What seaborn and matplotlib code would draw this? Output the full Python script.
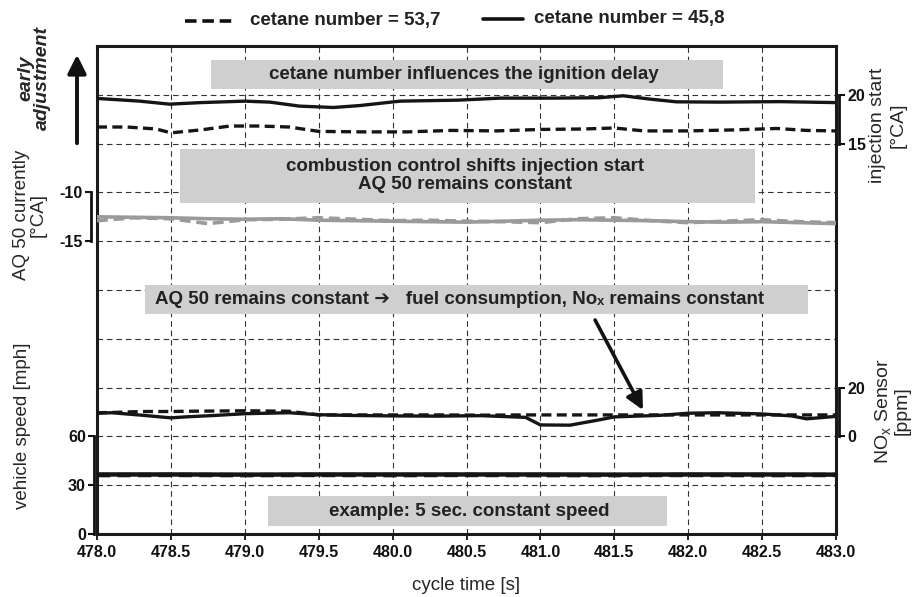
import numpy as np
import matplotlib
matplotlib.use("Agg")
import matplotlib.pyplot as plt
import seaborn as sns
from matplotlib.patches import Rectangle, FancyArrowPatch
from matplotlib.lines import Line2D

sns.set_style("white")
plt.rcParams["font.family"] = ["Liberation Sans", "DejaVu Sans"]
plt.rcParams["mathtext.fontset"] = "custom"
plt.rcParams["mathtext.rm"] = "Liberation Sans"
plt.rcParams["mathtext.bf"] = "Liberation Sans:bold"
plt.rcParams["mathtext.it"] = "Liberation Sans:italic"

# ---------------- data ----------------
series_labels = ["cetane number = 53,7", "cetane number = 45,8"]
x_ticks = [478.0, 478.5, 479.0, 479.5, 480.0, 480.5, 481.0, 481.5, 482.0, 482.5, 483.0]

inj_time_458 = [478.0, 478.29, 478.49, 478.7, 479.0, 479.17, 479.37, 479.6, 479.78, 480.05,
                480.44, 480.73, 481.07, 481.4, 481.56, 481.74, 481.92, 482.22, 482.62, 483.0]
inj_458 = [19.63, 19.35, 19.04, 19.2, 19.35, 19.25, 18.84, 18.7, 18.9, 19.35,
           19.45, 19.66, 19.66, 19.7, 19.9, 19.56, 19.28, 19.25, 19.3, 19.2]
inj_time_537 = [478.0, 478.2, 478.4, 478.5, 478.7, 478.9, 479.1, 479.3, 479.5, 479.8, 480.1,
                480.4, 480.7, 481.0, 481.3, 481.5, 481.7, 482.0, 482.3, 482.6, 482.8, 483.0]
inj_537 = [16.7, 16.7, 16.5, 16.1, 16.4, 16.8, 16.8, 16.7, 16.25, 16.2, 16.2,
           16.35, 16.3, 16.45, 16.5, 16.6, 16.3, 16.3, 16.4, 16.55, 16.35, 16.3]

aq_time = [478.0, 478.25, 478.5, 478.75, 479.0, 479.25, 479.5, 479.75, 480.0, 480.25, 480.5,
           480.75, 481.0, 481.25, 481.5, 481.75, 482.0, 482.25, 482.5, 482.75, 483.0]
aq_458 = [-12.5, -12.55, -12.6, -12.7, -12.75, -12.7, -12.85, -12.9, -12.95, -13.0, -13.05,
          -12.95, -12.85, -12.8, -12.85, -12.9, -13.0, -13.05, -13.0, -13.1, -13.2]
aq_537 = [-12.9, -12.6, -12.7, -13.2, -12.8, -12.75, -12.6, -12.75, -12.9, -12.85, -12.95,
          -13.0, -13.1, -12.7, -12.6, -12.9, -13.1, -12.95, -12.8, -13.0, -13.1]

nox_time = [478.0, 478.1, 478.3, 478.5, 478.6, 478.8, 479.0, 479.3, 479.5, 479.7, 480.0, 480.3,
            480.6, 480.9, 481.0, 481.2, 481.4, 481.5, 481.8, 482.0, 482.2, 482.5, 482.7, 482.8, 483.0]
nox_458 = [9.5, 9.7, 8.7, 7.6, 8.0, 8.6, 9.3, 9.7, 8.9, 8.6, 8.4, 8.3,
           8.5, 7.8, 4.7, 4.6, 6.8, 8.0, 8.6, 9.5, 9.7, 9.2, 8.4, 7.2, 8.2]
nox_537 = [9.7, 9.8, 10.2, 10.2, 10.3, 10.4, 10.5, 10.3, 8.8, 8.8, 8.8, 8.8,
           8.7, 8.8, 8.8, 8.8, 8.8, 8.8, 8.8, 8.8, 8.8, 8.8, 8.8, 8.8, 8.8]

speed_time = [478.0, 478.5, 479.0, 479.5, 480.0, 480.5, 481.0, 481.5, 482.0, 482.5, 483.0]
speed_458 = [36.6, 36.6, 36.5, 36.6, 36.6, 36.6, 36.6, 36.5, 36.6, 36.6, 36.5]
speed_537 = [36.2, 36.3, 36.2, 36.3, 36.2, 36.3, 36.2, 36.2, 36.3, 36.2, 36.3]

notes = ["cetane number influences the ignition delay",
         "combustion control shifts injection start\nAQ 50 remains constant",
         "AQ 50 remains constant \u2794   fuel consumption, No\u2093 remains constant",
         "example: 5 sec. constant speed"]

# ---------------- figure ----------------
W, H = 915, 597
fig = plt.figure(figsize=(W / 100, H / 100), dpi=100)
L, R, T, B = 97, 836, 46, 534
ax = fig.add_axes([L / W, 1 - B / H, (R - L) / W, (B - T) / H])
ax.set_xlim(478, 483)
ax.set_ylim(0, 10)
ax.set_xticks(x_ticks)
ax.set_xticklabels([f"{v:.1f}" for v in x_ticks], fontsize=11.5, fontweight="bold")
ax.set_yticks(range(0, 11))
ax.tick_params(axis="x", bottom=True, length=4, width=1.3, direction="out", pad=4, colors="#111")
ax.grid(True, linestyle=(0, (5, 3.5)), color="#333333", linewidth=0.8)
for s in ax.spines.values():
    s.set_linewidth(2.2)
    s.set_color("#1a1a1a")
ax.set_xlabel("cycle time [s]", fontsize=13.5, labelpad=12)


def px2fig(x, y):
    return x / W, 1 - y / H


def overlay(lo, hi, side, ticks, offset):
    a = ax.twinx()
    a.set_ylim(lo, hi)
    a.grid(False)
    for s in a.spines.values():
        s.set_visible(False)
    sp = a.spines[side]
    sp.set_visible(True)
    sp.set_bounds(min(ticks), max(ticks))
    sp.set_position(("outward", offset))
    sp.set_linewidth(2)
    sp.set_color("#111")
    if side == "left":
        a.yaxis.tick_left()
    else:
        a.yaxis.tick_right()
    a.set_yticks(ticks)
    a.set_yticklabels([str(t) for t in ticks], fontsize=11.5, fontweight="bold")
    a.tick_params(axis="y", length=4, width=1.5, pad=2, colors="#111")
    return a


ax_inj = overlay(-25, 25, "right", [15, 20], 2.5)
ax_aq = overlay(-45, 5, "left", [-15, -10], 4)
ax_nox = overlay(-40, 160, "right", [0, 20], 2.5)
ax_spd = overlay(0, 300, "left", [0, 30, 60], 2)
# twinx re-enables left ticks on the host axes: switch them off again
ax.tick_params(axis="y", left=False, right=False, labelleft=False, labelright=False)

dash = (0, (3, 1.6))
sns.lineplot(x=inj_time_458, y=inj_458, ax=ax_inj, color="#151515", linewidth=2.4)
sns.lineplot(x=inj_time_537, y=inj_537, ax=ax_inj, color="#151515", linewidth=2.4, linestyle=dash)
sns.lineplot(x=aq_time, y=aq_458, ax=ax_aq, color="#9a9a9a", linewidth=2.6)
sns.lineplot(x=aq_time, y=aq_537, ax=ax_aq, color="#9a9a9a", linewidth=2.6, linestyle=dash)
sns.lineplot(x=nox_time, y=nox_458, ax=ax_nox, color="#151515", linewidth=2.4)
sns.lineplot(x=nox_time, y=nox_537, ax=ax_nox, color="#151515", linewidth=2.4, linestyle=dash)
sns.lineplot(x=speed_time, y=speed_458, ax=ax_spd, color="#151515", linewidth=3.2)
sns.lineplot(x=speed_time, y=speed_537, ax=ax_spd, color="#151515", linewidth=3.2, linestyle=dash)
for a in (ax_inj, ax_aq, ax_nox, ax_spd):
    a.set_xlim(478, 483)
    a.set_xlabel("")
    a.set_ylabel("")

# ---------------- annotation boxes ----------------
box_color = "#cfcfcf"
text_color = "#222222"
boxes = [(478.77, 9.12, 482.235, 9.71), (478.56, 6.78, 482.45, 7.89),
         (478.325, 4.51, 482.81, 5.10), (479.157, 0.16, 481.857, 0.78)]
for (x0, y0, x1, y1) in boxes:
    ax.add_patch(Rectangle((x0, y0), x1 - x0, y1 - y0, facecolor=box_color,
                           edgecolor="none", zorder=3))
ax.text(480.48, 9.42, notes[0], ha="center", va="center", fontsize=13.5,
        fontweight="bold", color=text_color, zorder=4)
ax.text(480.49, 7.34, notes[1], ha="center", va="center", fontsize=13.5,
        fontweight="bold", color=text_color, zorder=4, linespacing=1.1)
ax.text(478.39, 4.81, notes[2], ha="left", va="center", fontsize=13.5,
        fontweight="bold", color=text_color, zorder=4,
        family=["Liberation Sans", "DejaVu Sans"])
ax.text(480.52, 0.47, notes[3], ha="center", va="center", fontsize=13.5,
        fontweight="bold", color=text_color, zorder=4)

ax.annotate("", xy=(481.694, 2.54), xytext=(481.37, 4.385),
            arrowprops=dict(arrowstyle="-|>", lw=2.6, color="#111", mutation_scale=26,
                            shrinkA=0, shrinkB=0), zorder=5)

# ---------------- side labels ----------------
fig.text(*px2fig(23, 426), "vehicle speed [mph]", rotation=90, ha="center", va="center",
         fontsize=13.5)
fig.text(*px2fig(30, 215), "AQ 50 currently\n[°CA]", rotation=90, ha="center", va="center",
         fontsize=13.5, linespacing=1.0, multialignment="center")
fig.text(*px2fig(34, 78), "early\nadjustment", rotation=90, ha="center", va="center",
         fontsize=14, fontweight="bold", style="italic", linespacing=1.0,
         multialignment="center")
fig.text(*px2fig(888, 125), "injection start\n[°CA]", rotation=90, ha="center", va="center",
         fontsize=14, linespacing=1.3, multialignment="center")
fig.text(*px2fig(892, 411), "NO$_\\mathregular{x}$ Sensor\n[ppm]", rotation=90, ha="center",
         va="center", fontsize=14, linespacing=1.05, multialignment="center")

fig.add_artist(FancyArrowPatch(px2fig(77, 146), px2fig(77, 52),
               transform=fig.transFigure, arrowstyle="-|>", mutation_scale=28,
               lw=2.8, color="#111"))

# ---------------- legend ----------------
fig.add_artist(Line2D([185 / W, 232 / W], [1 - 21 / H, 1 - 21 / H], color="#111",
                      lw=2.6, linestyle=(0, (3.2, 1.6)), transform=fig.transFigure))
fig.text(*px2fig(250, 21), series_labels[0], ha="left", va="center", fontsize=13.5,
         fontweight="bold", color=text_color)
fig.add_artist(Line2D([483 / W, 523 / W], [1 - 18.5 / H, 1 - 18.5 / H], color="#111",
                      lw=2.6, transform=fig.transFigure))
fig.text(*px2fig(534, 19), series_labels[1], ha="left", va="center", fontsize=13.5,
         fontweight="bold", color=text_color)

fig.savefig("out.png", dpi=100)
